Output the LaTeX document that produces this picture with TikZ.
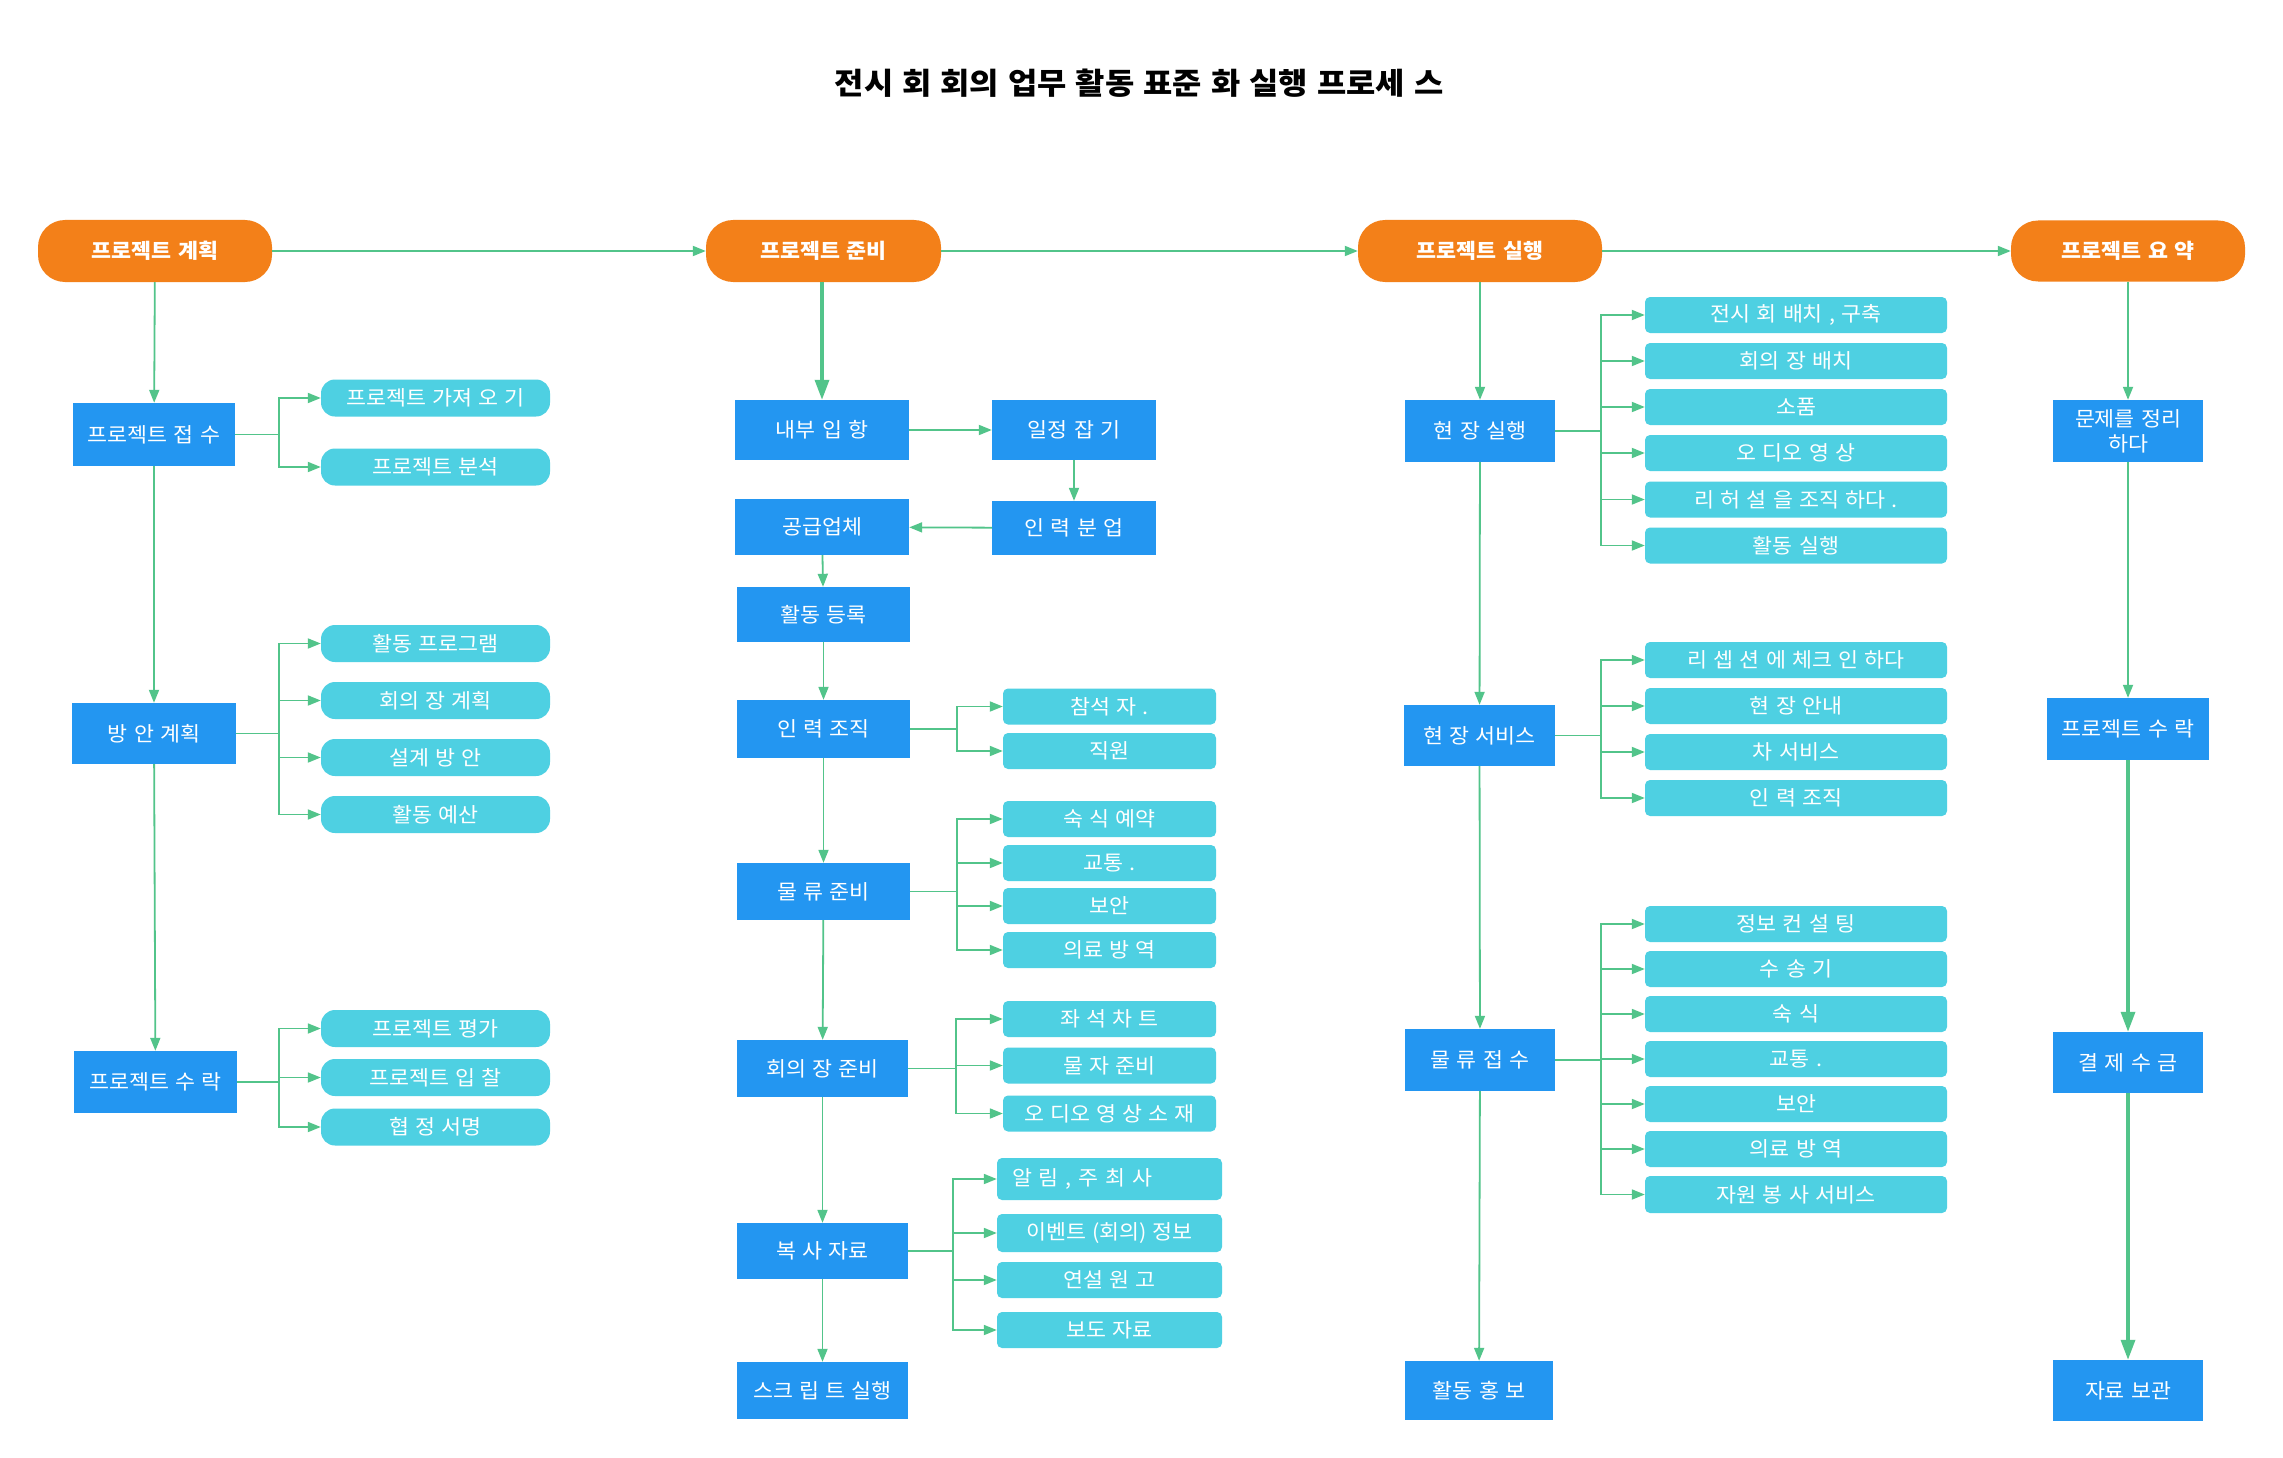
\documentclass[tikz,border=0pt]{standalone}
\usepackage{fontspec}
\setmainfont{Noto Sans CJK KR}[FakeStretch=1.06, WordSpace=1.25]
\usetikzlibrary{arrows.meta}
\definecolor{phaseC}{HTML}{F38019}
\definecolor{blockC}{HTML}{2396F1}
\definecolor{subC}{HTML}{4ED0E2}
\definecolor{lineC}{HTML}{52C48A}
\tikzset{
  phase/.style={fill=phaseC, draw=none, rounded corners=27pt, text=white, inner sep=0pt,
    font=\fontsize{20.5}{24}\selectfont\bfseries},
  blk/.style={fill=blockC, draw=none, text=white, inner sep=0pt,
    font=\fontsize{20.5}{24}\selectfont},
  pill/.style={fill=subC, draw=none, rounded corners=14pt, text=white, inner sep=0pt,
    minimum width=229pt, minimum height=37pt, font=\fontsize{20.5}{24}\selectfont},
  sub/.style={fill=subC, draw=none, rounded corners=5pt, text=white, inner sep=0pt,
    font=\fontsize{20.5}{24}\selectfont},
  conn/.style={draw=lineC, line width=1.8pt, -{Triangle[length=13pt,width=10pt]}},
  thickconn/.style={draw=lineC, line width=3.4pt, -{Triangle[length=20pt,width=14pt]}},
  subB/.style={sub, minimum width=213pt, minimum height=36pt},
  subC9/.style={sub, minimum width=225pt, minimum height=36pt},
  subE/.style={sub, minimum width=302pt, minimum height=36pt}
}
\newcommand\branchto[3]{\foreach \c in {#3}{\draw[conn] (#1.east) -- ++(#2,0) |- (\c.west);}}
\begin{document}
\begin{tikzpicture}[x=1pt,y=-1pt]
\fill[white] (0,0) rectangle (2283,1458);
\useasboundingbox (0,0) rectangle (2283,1458);

% title
\node (title) at (1139,83) {\fontsize{30}{34}\selectfont\bfseries 전시 회 회의 업무 활동 표준 화 실행 프로세 스};

% phases
\node[phase, minimum width=234pt, minimum height=62pt] (P1) at (155,251) {프로젝트 계획};
\node[phase, minimum width=235pt, minimum height=62pt] (P2) at (823.5,251) {프로젝트 준비};
\node[phase, minimum width=244pt, minimum height=62pt] (P3) at (1480,251) {프로젝트 실행};
\node[phase, minimum width=234pt, minimum height=61pt] (P4) at (2128,251) {프로젝트 요 약};

% column 1
\node[blk, minimum width=162pt, minimum height=63pt] (A1) at (154,434.5) {프로젝트 접 수};
\node[pill] (A1a) at (435.5,398) {프로젝트 가져 오 기};
\node[pill] (A1b) at (435.5,467) {프로젝트 분석};
\node[blk, minimum width=164pt, minimum height=61pt] (A2) at (154,733.5) {방 안 계획};
\node[pill] (A2a) at (435.5,643.5) {활동 프로그램};
\node[pill] (A2b) at (435.5,700.5) {회의 장 계획};
\node[pill] (A2c) at (435.5,757.5) {설계 방 안};
\node[pill] (A2d) at (435.5,814.5) {활동 예산};
\node[blk, minimum width=163pt, minimum height=62pt] (A3) at (155.5,1082) {프로젝트 수 락};
\node[pill] (A3a) at (435.5,1028.5) {프로젝트 평가};
\node[pill] (A3b) at (435.5,1077.5) {프로젝트 입 찰};
\node[pill] (A3c) at (435.5,1127) {협 정 서명};

% column 2
\node[blk, minimum width=174pt, minimum height=60pt] (B1) at (822,430) {내부 입 항};
\node[blk, minimum width=164pt, minimum height=60pt] (B2) at (1074,430) {일정 잡 기};
\node[blk, minimum width=164pt, minimum height=54pt] (B3) at (1074,528) {인 력 분 업};
\node[blk, minimum width=174pt, minimum height=56pt] (B4) at (822,527) {공급업체};
\node[blk, minimum width=173pt, minimum height=55pt] (B5) at (823.5,614.5) {활동 등록};
\node[blk, minimum width=173pt, minimum height=58pt] (B6) at (823.5,729) {인 력 조직};
\node[subB] (B6a) at (1109.5,706.5) {참석 자 .};
\node[subB] (B6b) at (1109.5,751) {직원};
\node[blk, minimum width=173pt, minimum height=57pt] (B7) at (823.5,891.5) {물 류 준비};
\node[subB] (B7a) at (1109.5,819) {숙 식 예약};
\node[subB] (B7b) at (1109.5,863) {교통 .};
\node[subB] (B7c) at (1109.5,906) {보안};
\node[subB] (B7d) at (1109.5,950) {의료 방 역};
\node[blk, minimum width=171pt, minimum height=57pt] (B8) at (822.5,1068.5) {회의 장 준비};
\node[subB] (B8a) at (1109.5,1019) {좌 석 차 트};
\node[subB] (B8b) at (1109.5,1065.5) {물 자 준비};
\node[subB] (B8c) at (1109.5,1113.5) {오 디오 영 상 소 재};
\node[blk, minimum width=171pt, minimum height=56pt] (B9) at (822.5,1251) {복 사 자료};
\node[sub, minimum height=42pt, text width=195pt, inner xsep=15pt, align=left] (B9a) at (1109.5,1179) {알 림 , 주 최 사};
\node[subC9, minimum height=38pt] (B9b) at (1109.5,1233) {이벤트 (회의) 정보};
\node[subC9] (B9c) at (1109.5,1280) {연설 원 고};
\node[subC9] (B9d) at (1109.5,1330) {보도 자료};
\node[blk, minimum width=171pt, minimum height=57pt] (B10) at (822.5,1390.5) {스크 립 트 실행};

% column 3
\node[blk, minimum width=150pt, minimum height=62pt] (C1) at (1480,431) {현 장 실행};
\node[subE] (C1a) at (1796,315) {전시 회 배치 , 구축};
\node[subE] (C1b) at (1796,361) {회의 장 배치};
\node[subE] (C1c) at (1796,407) {소품};
\node[subE] (C1d) at (1796,453) {오 디오 영 상};
\node[subE] (C1e) at (1796,499.5) {리 허 설 을 조직 하다 .};
\node[subE] (C1f) at (1796,545.5) {활동 실행};
\node[blk, minimum width=151pt, minimum height=61pt] (C2) at (1479.5,735.5) {현 장 서비스};
\node[subE] (C2a) at (1796,660) {리 셉 션 에 체크 인 하다};
\node[subE] (C2b) at (1796,706) {현 장 안내};
\node[subE] (C2c) at (1796,752) {차 서비스};
\node[subE] (C2d) at (1796,798) {인 력 조직};
\node[blk, minimum width=150pt, minimum height=62pt] (C3) at (1480,1060) {물 류 접 수};
\node[subE] (C3a) at (1796,924) {정보 컨 설 팅};
\node[subE] (C3b) at (1796,969) {수 송 기};
\node[subE] (C3c) at (1796,1014) {숙 식};
\node[subE] (C3d) at (1796,1059) {교통 .};
\node[subE] (C3e) at (1796,1104) {보안};
\node[subE] (C3f) at (1796,1149) {의료 방 역};
\node[subE, minimum height=37pt] (C3g) at (1796,1194.5) {자원 봉 사 서비스};
\node[blk, minimum width=148pt, minimum height=59pt] (C4) at (1479,1390.5) {활동 홍 보};

% column 4
\node[blk, minimum width=150pt, minimum height=62pt, align=center] (D1) at (2128,431) {문제를 정리\\[1pt]하다};
\node[blk, minimum width=162pt, minimum height=62pt] (D2) at (2128,729) {프로젝트 수 락};
\node[blk, minimum width=150pt, minimum height=61pt] (D3) at (2128,1062.5) {결 제 수 금};
\node[blk, minimum width=150pt, minimum height=61pt] (D4) at (2128,1390.5) {자료 보관};

% top flow
\draw[conn] (P1) -- (P2);
\draw[conn] (P2) -- (P3);
\draw[conn] (P3) -- (P4);

% column 1 flow
\draw[conn] (P1) -- (A1);
\draw[conn] (A1) -- (A2);
\draw[conn] (A2) -- (A3);
\branchto{A1}{44}{A1a,A1b}
\branchto{A2}{43}{A2a,A2b,A2c,A2d}
\branchto{A3}{42}{A3a,A3b,A3c}

% column 2 flow
\draw[thickconn] (P2.south -| B1) -- (B1);
\draw[conn] (B1) -- (B2);
\draw[conn] (B2) -- (B3);
\draw[conn] (B3) -- (B4);
\draw[conn] (B4) -- (B5);
\draw[conn] (B5) -- (B6);
\draw[conn] (B6) -- (B7);
\draw[conn] (B7) -- (B8);
\draw[conn] (B8) -- (B9);
\draw[conn] (B9) -- (B10);
\branchto{B6}{47}{B6a,B6b}
\branchto{B7}{47}{B7a,B7b,B7c,B7d}
\branchto{B8}{48}{B8a,B8b,B8c}
\branchto{B9}{45}{B9a,B9b,B9c,B9d}

% column 3 flow
\draw[conn] (P3) -- (C1);
\draw[conn] (C1) -- (C2);
\draw[conn] (C2) -- (C3);
\draw[conn] (C3) -- (C4);
\branchto{C1}{46}{C1a,C1b,C1c,C1d,C1e,C1f}
\branchto{C2}{46}{C2a,C2b,C2c,C2d}
\branchto{C3}{46}{C3a,C3b,C3c,C3d,C3e,C3f,C3g}

% column 4 flow
\draw[conn] (P4) -- (D1);
\draw[conn] (D1) -- (D2);
\draw[thickconn] (D2) -- (D3);
\draw[thickconn] (D3) -- (D4);
\end{tikzpicture}
\end{document}
